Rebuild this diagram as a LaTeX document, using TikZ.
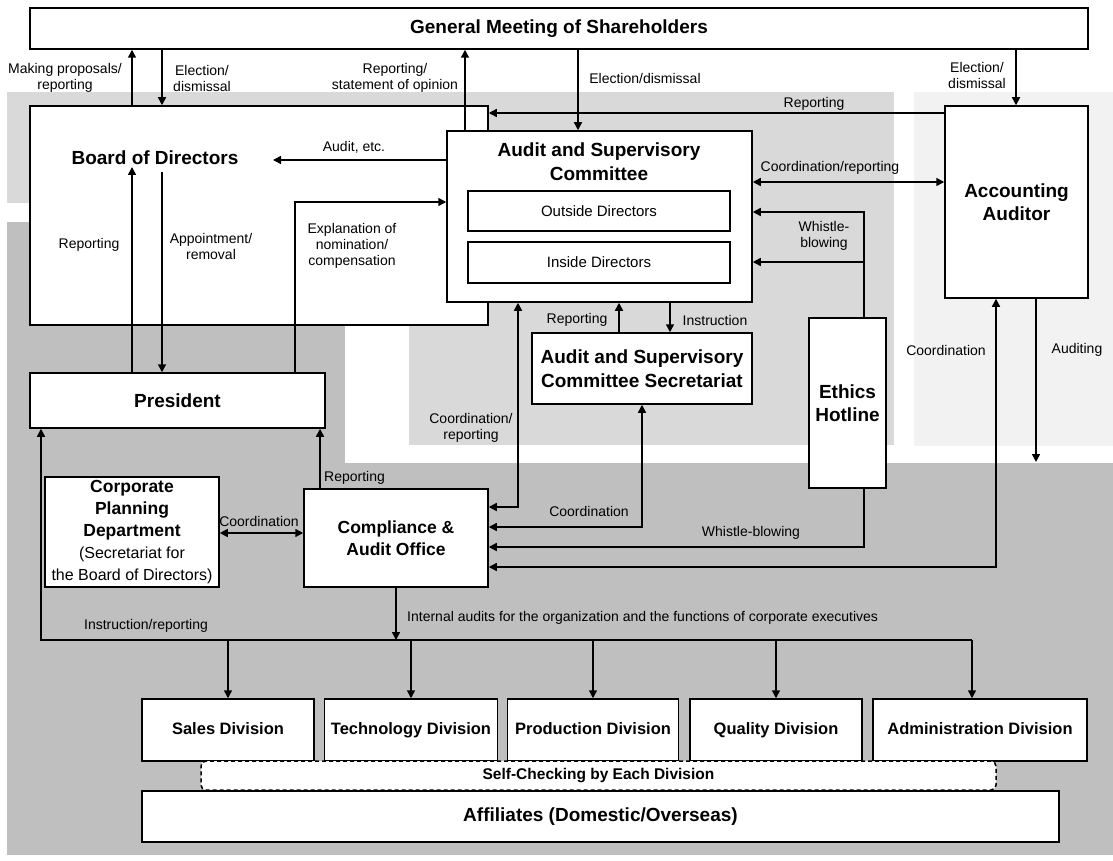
\documentclass[tikz,border=0pt]{standalone}
\usepackage{fontspec}
\setmainfont{Liberation Sans}
\usetikzlibrary{arrows.meta}
\definecolor{bgdark}{HTML}{BFBFBF}
\definecolor{bgmid}{HTML}{D9D9D9}
\definecolor{bglight}{HTML}{F2F2F2}
\newcommand\TitleFont{\fontsize{19}{23.5}\selectfont\bfseries}
\newcommand\SubTitleFont{\fontsize{17.5}{22}\selectfont\bfseries}
\newcommand\LabFont{\fontsize{14}{16}\selectfont}
\newcommand\DivFont{\fontsize{16.5}{20}\selectfont\bfseries}
\newcommand\InFont{\fontsize{15}{18}\selectfont}
\newcommand\SecFont{\fontsize{16}{20}\selectfont\mdseries}
\begin{document}
\begin{tikzpicture}[x=1pt,y=-1pt,
  box/.style={draw=black,fill=white,line width=1.5pt,inner sep=0pt,align=center},
  divbox/.style={box,minimum height=62pt,font=\DivFont,text height=12pt,text depth=3.5pt},
  lab/.style={font=\LabFont,align=center,inner sep=0pt},
  conn/.style={line width=1.5pt},
  arr/.style={conn,-{Triangle[length=8pt,width=8pt]}},
  darr/.style={conn,{Triangle[length=8pt,width=8pt]}-{Triangle[length=8pt,width=8pt]}},
]
\useasboundingbox (0,0) rectangle (1113,861);
% backgrounds
\fill[bgdark] (7,222) rectangle (345,463);
\fill[bgdark] (7,463) rectangle (1113,855);
\fill[bgmid] (7,92) rectangle (894,203);
\fill[bgmid] (409,92) rectangle (894,445);
\fill[bglight] (914,92) rectangle (1113,446);

% boxes
\node[box,minimum width=1058pt,minimum height=41pt,font=\TitleFont] (gms) at (559,28.5) {General Meeting of Shareholders};
\node[box,minimum width=458pt,minimum height=219pt] (board) at (259,215.5) {};
\node[font=\TitleFont,inner sep=0pt] (boardT) at (155,158) {Board of Directors};
\node[box,minimum width=305pt,minimum height=171pt] (committee) at (599.5,216.5) {};
\node[font=\TitleFont,align=center,inner sep=0pt] (comT) at (599,161.5) {Audit and Supervisory\\Committee};
\node[box,minimum width=262pt,minimum height=40pt,font=\InFont] (outside) at (599,211) {Outside Directors};
\node[box,minimum width=262pt,minimum height=41pt,font=\InFont] (inside) at (599,262.5) {Inside Directors};
\node[box,minimum width=143pt,minimum height=192pt,font=\TitleFont] (auditor) at (1016.5,202) {Accounting\\Auditor};
\node[box,minimum width=220pt,minimum height=71pt,font=\TitleFont] (secretariat) at (642,368.5) {Audit and Supervisory\\Committee Secretariat};
\node[box,minimum width=77pt,minimum height=170pt,font=\TitleFont] (ethics) at (847.5,403) {Ethics\\Hotline};
\node[box,minimum width=295pt,minimum height=55pt,font=\TitleFont] (president) at (177.5,400.5) {President};
\node[box,minimum width=174pt,minimum height=110pt,font=\SubTitleFont] (corp) at (132,532) {Corporate\\Planning\\Department\\\SecFont (Secretariat for\\\SecFont the Board of Directors)};
\node[box,minimum width=184pt,minimum height=98pt,font=\SubTitleFont] (compliance) at (396,538) {Compliance \&\\Audit Office};
\node[divbox,minimum width=172pt] (div1) at (228,730) {Sales Division};
\node[divbox,minimum width=173pt] (div2) at (411,730) {Technology Division};
\node[divbox,minimum width=171pt] (div3) at (593,730) {Production Division};
\node[divbox,minimum width=172pt] (div4) at (776,730) {Quality Division};
\node[divbox,minimum width=214pt] (div5) at (980,730) {Administration Division};
\node[box,minimum width=795pt,minimum height=29pt,rounded corners=5pt,dash pattern=on 4pt off 3pt,font=\fontsize{15.5}{18}\selectfont\bfseries] (selfcheck) at (598.5,775.5) {Self-Checking by Each Division};
\node[box,minimum width=917pt,minimum height=51pt,font=\TitleFont] (affiliates) at (600.5,816.5) {Affiliates (Domestic/Overseas)};

% helper coordinates
\coordinate (xL1) at (132,0);
\coordinate (xL2) at (162,0);
\coordinate (xC1) at (465,0);
\coordinate (xC2) at (578,0);
\coordinate (xA1) at (1016,0);
\coordinate (yRep) at (0,113);
\coordinate (yAud) at (0,160);
\coordinate (xExp) at (295,0);
\coordinate (yExp) at (0,202);
\coordinate (yCR) at (0,182);
\coordinate (xW) at (864,0);
\coordinate (yW1) at (0,212);
\coordinate (yW2) at (0,262);
\coordinate (xSR) at (619,0);
\coordinate (xSI) at (670,0);
\coordinate (xK1) at (518,0);
\coordinate (yK1) at (0,507);
\coordinate (xK2) at (642,0);
\coordinate (yK2) at (0,527);
\coordinate (yK3) at (0,547);
\coordinate (xK4) at (996,0);
\coordinate (yK4) at (0,567);
\coordinate (xAd) at (1036,0);
\coordinate (xPR) at (320,0);
\coordinate (yCP) at (0,533);
\coordinate (xB0) at (41,0);
\coordinate (yBus) at (0,640);
\coordinate (xD5) at (972,0);
\coordinate (auditEnd) at (273,160);
\coordinate (repEnd) at (132,167);
\coordinate (appStart) at (162,172);
\coordinate (auditingEnd) at (1036,462);
\coordinate (busEnd) at (972,640);

% connectors
\draw[arr] (board.north -| xL1) -- (gms.south -| xL1);
\draw[arr] (gms.south -| xL2) -- (board.north -| xL2);
\draw[arr] (committee.north -| xC1) -- (gms.south -| xC1);
\draw[arr] (gms.south -| xC2) -- (committee.north -| xC2);
\draw[arr] (gms.south -| xA1) -- (auditor.north -| xA1);
\draw[arr] (auditor.west |- yRep) -- (board.east |- yRep);
\draw[arr] (committee.west |- yAud) -- (auditEnd);
\draw[arr] (president.north -| xExp) |- (committee.west |- yExp);
\draw[arr] (president.north -| xL1) -- (repEnd);
\draw[arr] (appStart) -- (president.north -| xL2);
\draw[darr] (committee.east |- yCR) -- (auditor.west |- yCR);
\draw[arr] (ethics.north -| xW) |- (committee.east |- yW1);
\draw[arr] (xW |- yW2) -- (committee.east |- yW2);
\draw[arr] (secretariat.north -| xSR) -- (committee.south -| xSR);
\draw[arr] (committee.south -| xSI) -- (secretariat.north -| xSI);
\draw[darr] (committee.south -| xK1) |- (compliance.east |- yK1);
\draw[darr] (secretariat.south -| xK2) |- (compliance.east |- yK2);
\draw[arr] (ethics.south -| xW) |- (compliance.east |- yK3);
\draw[darr] (auditor.south -| xK4) |- (compliance.east |- yK4);
\draw[arr] (auditor.south -| xAd) -- (auditingEnd);
\draw[arr] (compliance.north -| xPR) -- (president.south -| xPR);
\draw[darr] (corp.east |- yCP) -- (compliance.west |- yCP);
\draw[arr] (compliance.south) -- (compliance.south |- yBus);
\draw[arr] (busEnd) -| (president.south -| xB0);
\draw[arr] (div1.north |- yBus) -- (div1.north);
\draw[arr] (div2.north |- yBus) -- (div2.north);
\draw[arr] (div3.north |- yBus) -- (div3.north);
\draw[arr] (div4.north |- yBus) -- (div4.north);
\draw[arr] (xD5 |- yBus) -- (div5.north -| xD5);

% labels
\node[lab] (l1) at (65,78) {Making proposals/\\reporting};
\node[lab] (l2) at (202,78) {Election/\\dismissal};
\node[lab] (l3) at (395,78) {Reporting/\\statement of opinion};
\node[lab] (l4) at (645,78) {Election/dismissal};
\node[lab] (l5) at (977,75) {Election/\\dismissal};
\node[lab] (l6) at (814,104) {Reporting};
\node[lab] (l7) at (354,147) {Audit, etc.};
\node[lab] (l8) at (830,168) {Coordination/reporting};
\node[lab] (l9) at (824,236) {Whistle-\\blowing};
\node[lab] (l10) at (89,245) {Reporting};
\node[lab] (l11) at (211,246) {Appointment/\\removal};
\node[lab] (l12) at (352,246) {Explanation of\\nomination/\\compensation};
\node[lab] (l13) at (577,320) {Reporting};
\node[lab] (l14) at (715,320) {Instruction};
\node[lab] (l15) at (471,428) {Coordination/\\reporting};
\node[lab] (l16) at (946,350) {Coordination};
\node[lab] (l17) at (1077,350) {Auditing};
\node[lab,anchor=west] (l18) at (324,478) {Reporting};
\node[lab] (l19) at (259,521) {Coordination};
\node[lab] (l20) at (589,511) {Coordination};
\node[lab] (l21) at (751,533) {Whistle-blowing};
\node[lab,anchor=west] (l22) at (407,618) {Internal audits for the organization and the functions of corporate executives};
\node[lab] (l23) at (146,626) {Instruction/reporting};
\end{tikzpicture}
\end{document}
